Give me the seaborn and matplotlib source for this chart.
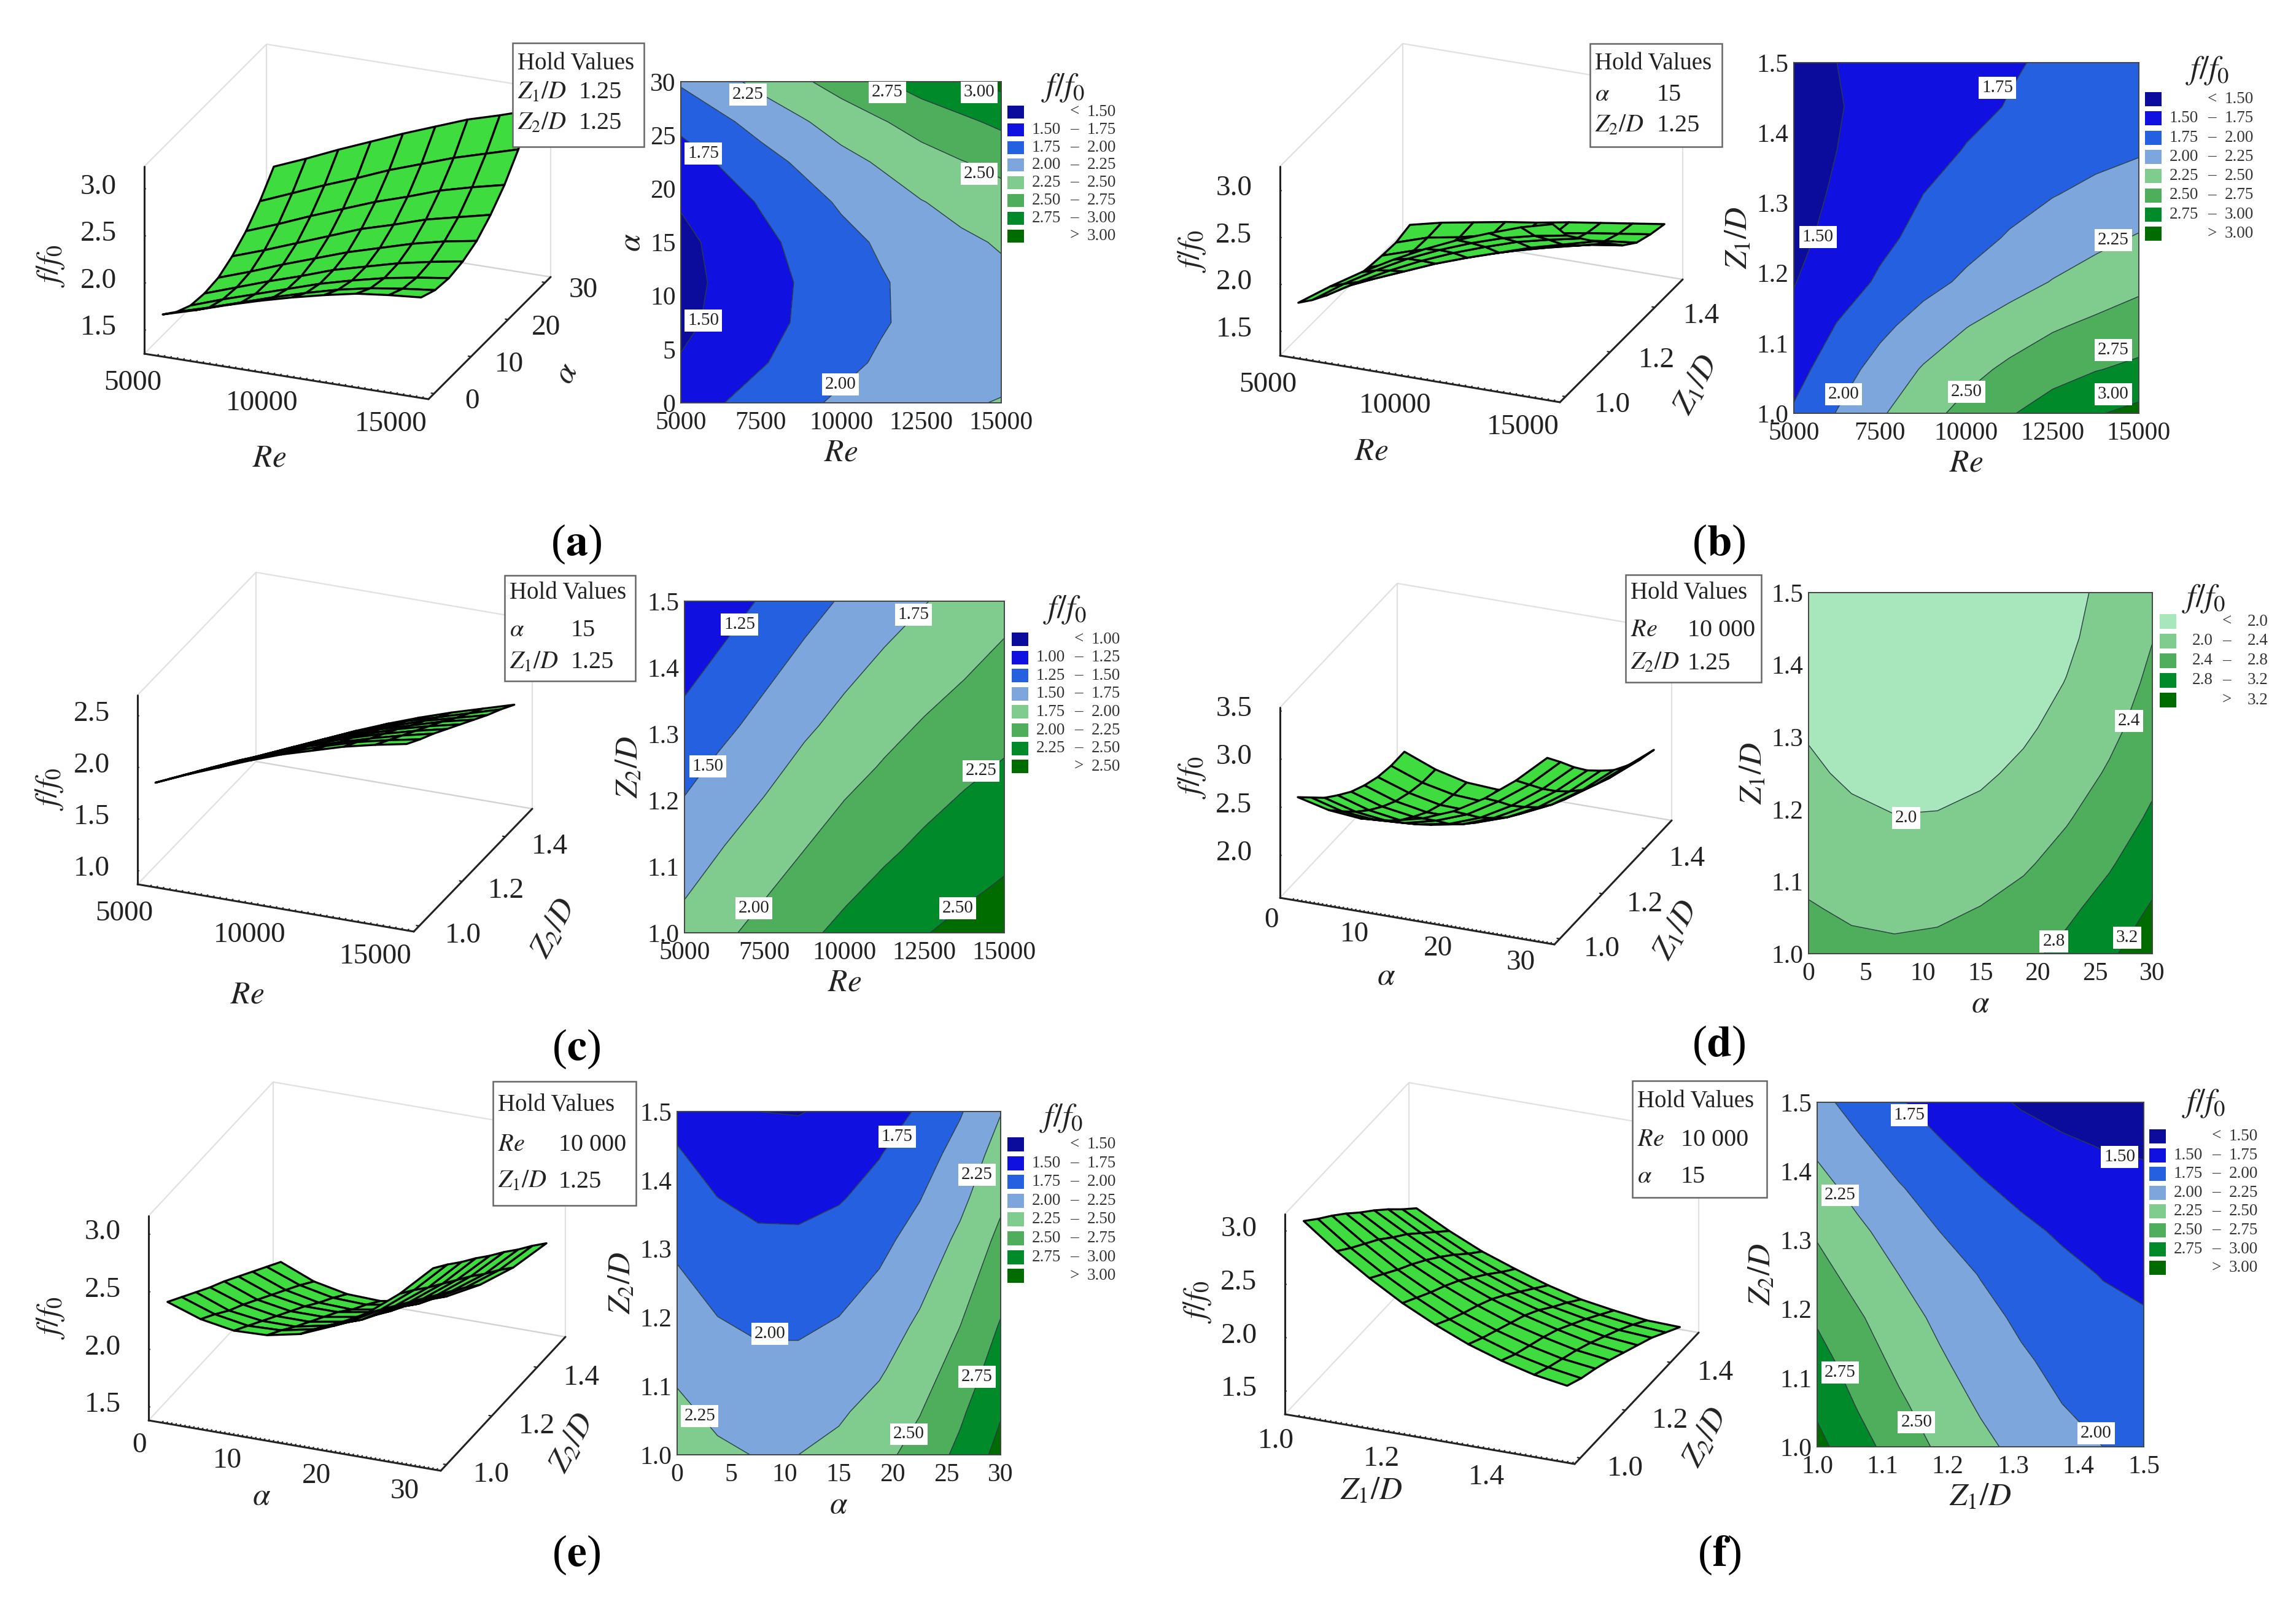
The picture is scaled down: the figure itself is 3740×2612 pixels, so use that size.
import numpy as np
import matplotlib
matplotlib.use("Agg")
import matplotlib.pyplot as plt
import seaborn as sns
from matplotlib.patches import Rectangle
from mpl_toolkits.mplot3d import proj3d

W, H = 3741, 2612

sns.set_theme(style="white")
plt.rcParams["font.family"] = ["Liberation Serif", "DejaVu Serif"]
plt.rcParams["mathtext.fontset"] = "stix"
# seaborn's white style switches tick marks off, the 3d axes need them
plt.rcParams["xtick.bottom"] = True
plt.rcParams["ytick.left"] = True

# axis values of the response grids
re_vals = [5000, 6250, 7500, 8750, 10000, 11250, 12500, 13750, 15000]
alpha_vals = [0, 3.75, 7.5, 11.25, 15, 18.75, 22.5, 26.25, 30]
ratio_vals = [1.0, 1.0625, 1.125, 1.1875, 1.25, 1.3125, 1.375, 1.4375, 1.5]

z_a = [[1.64, 1.74, 1.85, 1.95, 2.04, 2.12, 2.19, 2.23, 2.26],
       [1.52, 1.62, 1.73, 1.84, 1.94, 2.03, 2.10, 2.15, 2.19],
       [1.44, 1.56, 1.67, 1.78, 1.89, 1.98, 2.06, 2.12, 2.17],
       [1.42, 1.54, 1.66, 1.77, 1.89, 1.98, 2.07, 2.14, 2.20],
       [1.44, 1.56, 1.69, 1.81, 1.93, 2.03, 2.13, 2.21, 2.27],
       [1.52, 1.64, 1.77, 1.90, 2.03, 2.13, 2.24, 2.32, 2.40],
       [1.64, 1.77, 1.91, 2.04, 2.17, 2.28, 2.40, 2.49, 2.57],
       [1.81, 1.95, 2.09, 2.22, 2.36, 2.48, 2.60, 2.70, 2.80],
       [2.03, 2.17, 2.32, 2.46, 2.60, 2.73, 2.86, 2.96, 3.07]]
z_b = [[1.78, 2.01, 2.22, 2.41, 2.58, 2.73, 2.86, 2.98, 3.07],
       [1.66, 1.89, 2.09, 2.27, 2.42, 2.55, 2.66, 2.74, 2.80],
       [1.56, 1.76, 1.94, 2.10, 2.24, 2.36, 2.47, 2.55, 2.62],
       [1.49, 1.64, 1.78, 1.92, 2.04, 2.15, 2.26, 2.35, 2.44],
       [1.44, 1.57, 1.70, 1.81, 1.92, 2.02, 2.11, 2.19, 2.27],
       [1.41, 1.53, 1.65, 1.75, 1.84, 1.92, 1.99, 2.05, 2.10],
       [1.39, 1.50, 1.59, 1.68, 1.76, 1.83, 1.89, 1.94, 1.98],
       [1.38, 1.49, 1.55, 1.63, 1.70, 1.76, 1.82, 1.87, 1.92],
       [1.42, 1.50, 1.56, 1.62, 1.67, 1.73, 1.78, 1.83, 1.88]]
z_c = [[1.83, 1.96, 2.08, 2.20, 2.31, 2.40, 2.49, 2.56, 2.62],
       [1.73, 1.86, 1.98, 2.10, 2.21, 2.31, 2.40, 2.47, 2.53],
       [1.63, 1.76, 1.88, 2.00, 2.12, 2.21, 2.30, 2.38, 2.45],
       [1.53, 1.66, 1.78, 1.90, 2.02, 2.12, 2.21, 2.29, 2.36],
       [1.43, 1.56, 1.68, 1.81, 1.92, 2.02, 2.12, 2.20, 2.27],
       [1.32, 1.45, 1.58, 1.71, 1.82, 1.93, 2.02, 2.11, 2.18],
       [1.22, 1.35, 1.48, 1.61, 1.73, 1.83, 1.93, 2.01, 2.09],
       [1.12, 1.25, 1.38, 1.51, 1.63, 1.74, 1.83, 1.92, 2.01],
       [1.02, 1.15, 1.28, 1.41, 1.53, 1.64, 1.74, 1.83, 1.92]]
z_d = [[2.58, 2.50, 2.47, 2.50, 2.58, 2.71, 2.90, 3.14, 3.43],
       [2.43, 2.34, 2.31, 2.33, 2.41, 2.53, 2.72, 2.95, 3.24],
       [2.28, 2.19, 2.15, 2.17, 2.23, 2.35, 2.53, 2.76, 3.04],
       [2.16, 2.06, 2.01, 2.02, 2.08, 2.20, 2.37, 2.59, 2.86],
       [2.05, 1.95, 1.90, 1.90, 1.95, 2.06, 2.22, 2.44, 2.71],
       [1.97, 1.86, 1.80, 1.80, 1.84, 1.95, 2.10, 2.31, 2.57],
       [1.91, 1.80, 1.73, 1.72, 1.77, 1.86, 2.01, 2.22, 2.47],
       [1.88, 1.76, 1.69, 1.67, 1.71, 1.80, 1.94, 2.14, 2.39],
       [1.88, 1.75, 1.67, 1.65, 1.68, 1.76, 1.90, 2.09, 2.34]]
z_e = [[2.39, 2.29, 2.24, 2.25, 2.31, 2.43, 2.59, 2.81, 3.08],
       [2.30, 2.20, 2.15, 2.16, 2.22, 2.33, 2.49, 2.71, 2.98],
       [2.21, 2.10, 2.06, 2.06, 2.12, 2.22, 2.39, 2.60, 2.87],
       [2.12, 2.02, 1.97, 1.97, 2.02, 2.13, 2.29, 2.50, 2.77],
       [2.04, 1.93, 1.88, 1.88, 1.93, 2.03, 2.19, 2.40, 2.66],
       [1.95, 1.84, 1.79, 1.79, 1.84, 1.94, 2.09, 2.30, 2.56],
       [1.86, 1.75, 1.69, 1.68, 1.73, 1.83, 1.99, 2.19, 2.45],
       [1.77, 1.66, 1.60, 1.59, 1.64, 1.74, 1.89, 2.09, 2.35],
       [1.68, 1.56, 1.50, 1.49, 1.54, 1.63, 1.78, 1.98, 2.24]]
z_f = [[3.07, 2.84, 2.64, 2.46, 2.31, 2.18, 2.08, 2.00, 1.95],
       [2.95, 2.73, 2.54, 2.37, 2.22, 2.10, 2.00, 1.93, 1.88],
       [2.84, 2.63, 2.44, 2.28, 2.14, 2.03, 1.94, 1.87, 1.83],
       [2.72, 2.53, 2.35, 2.20, 2.07, 1.96, 1.88, 1.81, 1.77],
       [2.59, 2.41, 2.25, 2.11, 1.99, 1.89, 1.81, 1.74, 1.70],
       [2.47, 2.30, 2.14, 2.00, 1.89, 1.80, 1.72, 1.66, 1.63],
       [2.34, 2.17, 2.02, 1.89, 1.78, 1.69, 1.63, 1.58, 1.56],
       [2.20, 2.04, 1.89, 1.77, 1.67, 1.59, 1.53, 1.49, 1.47],
       [2.07, 1.91, 1.77, 1.66, 1.56, 1.48, 1.43, 1.39, 1.38]]

levels_main = [1.50, 1.75, 2.00, 2.25, 2.50, 2.75, 3.00]
levels_c = [1.00, 1.25, 1.50, 1.75, 2.00, 2.25, 2.50]
levels_d = [2.0, 2.4, 2.8, 3.2]

blue_green = ["#0c0c9c", "#1010e0", "#2560e0", "#7ca6dc", "#80cc8f", "#4fae5c", "#008a2a", "#006c00"]
pale_green = ["#a8e6bc", "#80cc8f", "#4fae5c", "#008a2a", "#006c00"]

re_ticks = [5000, 7500, 10000, 12500, 15000]
alpha_ticks = [0, 5, 10, 15, 20, 25, 30]
ratio_ticks = [1.0, 1.1, 1.2, 1.3, 1.4, 1.5]

RE = r"$Re$"
ALPHA = r"$\alpha$"
Z1 = r"$Z_1/D$"
Z2 = r"$Z_2/D$"
F0 = r"$f/f_0$"

panels = [
    dict(tag="a", x=re_vals, y=alpha_vals, z=z_a, levels=levels_main, colors=blue_green, fmt="%.2f",
         xl=RE, yl=ALPHA, xt=re_ticks, yt=alpha_ticks, x3=[5000, 10000, 15000], y3=[0, 10, 20, 30],
         z3=[1.5, 2.0, 2.5, 3.0], zlim=(1.26, 3.25), xlim=(4500, 15500), ylim=(-1.5, 31.5),
         hold=[(Z1, "1.25"), (Z2, "1.25")],
         L=(235, 576), F=(698, 650), R=(897, 451), top=271,
         xoff=(-40, 44), yoff=(62, 13),
         box=(1109, 133, 1631, 656), hbox=(835, 70, 1049, 239), hrows=(104, 151, 201), hval=942,
         leg=(1641, 172, 28.8, 21), title=(1732, 143), cap=(939, 886),
         lab3=((439, 747), (924, 609), (83, 433)),
         marks=[(7100, 28.8, "2.25"), (11440, 29, "2.75"), (14310, 29, "3.00"), (14310, 21.4, "2.50"),
                (5700, 23.3, "1.75"), (5700, 7.7, "1.50"), (9980, 1.7, "2.00")]),
    dict(tag="b", x=re_vals, y=ratio_vals, z=z_b, levels=levels_main, colors=blue_green, fmt="%.2f",
         xl=RE, yl=Z1, xt=re_ticks, yt=ratio_ticks, x3=[5000, 10000, 15000], y3=[1.0, 1.2, 1.4],
         z3=[1.5, 2.0, 2.5, 3.0], zlim=(1.254, 3.27), xlim=(4500, 15500), ylim=(0.975, 1.525),
         hold=[(ALPHA, "15"), (Z2, "1.25")],
         L=(2085, 579), F=(2541, 655), R=(2741, 455), top=271,
         xoff=(-40, 44), yoff=(76, 14),
         box=(2922, 102, 3484, 673), hbox=(2590, 71, 2805, 239), hrows=(104, 155, 205), hval=2699,
         leg=(3494, 150, 31.3, 23), title=(3596, 115), cap=(2800, 886),
         lab3=((2234, 736), (2764, 627), (1942, 409)),
         marks=[(10900, 1.464, "1.75"), (5700, 1.251, "1.50"), (14260, 1.247, "2.25"), (14260, 1.09, "2.75"),
                (14260, 1.027, "3.00"), (6440, 1.027, "2.00"), (10010, 1.031, "2.50")]),
    dict(tag="c", x=re_vals, y=ratio_vals, z=z_c, levels=levels_c, colors=blue_green, fmt="%.2f",
         xl=RE, yl=Z2, xt=re_ticks, yt=ratio_ticks, x3=[5000, 10000, 15000], y3=[1.0, 1.2, 1.4],
         z3=[1.0, 1.5, 2.0, 2.5], zlim=(0.88, 2.71), xlim=(4500, 15500), ylim=(0.975, 1.525),
         hold=[(ALPHA, "15"), (Z1, "1.25")],
         L=(224, 1440), F=(674, 1517), R=(867, 1317), top=1132,
         xoff=(-42, 44), yoff=(72, 16),
         box=(1115, 979, 1636, 1519), hbox=(822, 937, 1035, 1109), hrows=(966, 1026, 1079), hval=930,
         leg=(1648, 1030, 29.6, 22), title=(1735, 993), cap=(939, 1708),
         lab3=((403, 1621), (903, 1512), (81, 1285)),
         marks=[(6720, 1.465, "1.25"), (12160, 1.48, "1.75"), (5730, 1.251, "1.50"), (14270, 1.244, "2.25"),
                (7170, 1.037, "2.00"), (13540, 1.037, "2.50")]),
    dict(tag="d", x=alpha_vals, y=ratio_vals, z=z_d, levels=levels_d, colors=pale_green, fmt="%.1f",
         xl=ALPHA, yl=Z1, xt=alpha_ticks, yt=ratio_ticks, x3=[0, 10, 20, 30], y3=[1.0, 1.2, 1.4],
         z3=[2.0, 2.5, 3.0, 3.5], zlim=(1.57, 3.55), xlim=(-1.5, 31.5), ylim=(0.975, 1.525),
         hold=[(RE, "10 000"), (Z2, "1.25")],
         L=(2085, 1462), F=(2532, 1538), R=(2723, 1336), top=1152,
         xoff=(-34, 33), yoff=(69, 17),
         box=(2946, 965, 3506, 1553), hbox=(2648, 936, 2869, 1111), hrows=(966, 1026, 1080), hval=2749,
         leg=(3518, 1000, 32, 24), title=(3590, 975), cap=(2800, 1702),
         lab3=((2258, 1591), (2731, 1515), (1942, 1266)),
         marks=[(27.96, 1.322, "2.4"), (8.5, 1.188, "2.0"), (21.4, 1.017, "2.8"), (27.8, 1.022, "3.2")]),
    dict(tag="e", x=alpha_vals, y=ratio_vals, z=z_e, levels=levels_main, colors=blue_green, fmt="%.2f",
         xl=ALPHA, yl=Z2, xt=alpha_ticks, yt=ratio_ticks, x3=[0, 10, 20, 30], y3=[1.0, 1.2, 1.4],
         z3=[1.5, 2.0, 2.5, 3.0], zlim=(1.394, 3.17), xlim=(-1.5, 31.5), ylim=(0.975, 1.525),
         hold=[(RE, "10 000"), (Z1, "1.25")],
         L=(242, 2313), F=(718, 2395), R=(921, 2177), top=1980,
         xoff=(-37, 37), yoff=(73, 17),
         box=(1103, 1810, 1630, 2369), hbox=(803, 1761, 1036, 1963), hrows=(1799, 1865, 1924), hval=910,
         leg=(1641, 1852, 30.6, 23), title=(1729, 1821), cap=(939, 2532),
         lab3=((426, 2438), (933, 2350), (83, 2146)),
         marks=[(20.4, 1.463, "1.75"), (27.8, 1.408, "2.25"), (8.6, 1.176, "2.00"), (27.8, 1.114, "2.75"),
                (2.1, 1.056, "2.25"), (21.5, 1.03, "2.50")]),
    dict(tag="f", x=ratio_vals, y=ratio_vals, z=z_f, levels=levels_main, colors=blue_green, fmt="%.2f",
         xl=Z1, yl=Z2, xt=ratio_ticks, yt=ratio_ticks, x3=[1.0, 1.2, 1.4], y3=[1.0, 1.2, 1.4],
         z3=[1.5, 2.0, 2.5, 3.0], zlim=(1.294, 3.17), xlim=(0.975, 1.525), ylim=(0.975, 1.525),
         hold=[(RE, "10 000"), (ALPHA, "15")],
         L=(2093, 2303), F=(2565, 2384), R=(2767, 2170), top=1977,
         xoff=(-36, 40), yoff=(73, 17),
         box=(2960, 1795, 3492, 2356), hbox=(2659, 1760, 2878, 1950), hrows=(1794, 1857, 1916), hval=2738,
         leg=(3501, 1839, 30.6, 23), title=(3590, 1797), cap=(2800, 2532),
         lab3=((2234, 2429), (2779, 2341), (1951, 2120)),
         marks=[(1.141, 1.481, "1.75"), (1.463, 1.421, "1.50"), (1.035, 1.365, "2.25"), (1.035, 1.108, "2.75"),
                (1.152, 1.036, "2.50"), (1.427, 1.02, "2.00")]),
]

fig = plt.figure(figsize=(W / 100, H / 100), dpi=100, facecolor="white")


def px_text(x, y, s, **kw):
    kw.setdefault("ha", "center")
    kw.setdefault("va", "center")
    kw.setdefault("zorder", 12)
    return fig.text(x / W, 1 - y / H, s, **kw)


def px_rect(x0, y0, x1, y1, **kw):
    r = Rectangle((x0 / W, 1 - y1 / H), (x1 - x0) / W, (y1 - y0) / H, transform=fig.transFigure, **kw)
    fig.add_artist(r)


def corner_px(ax, pt):
    xs, ys, _ = proj3d.proj_transform(pt[0], pt[1], pt[2], ax.get_proj())
    return ax.transData.transform((xs, ys))


def tick_name(v):
    return f"{v:.1f}" if isinstance(v, float) else str(v)


def fit_3d(ax, p):
    # view and box shape worked out from where the floor corners sit in the picture
    L, F, R = p["L"], p["F"], p["R"]
    p1, q1 = F[0] - L[0], F[1] - L[1]
    p2, q2 = R[0] - F[0], F[1] - R[1]
    e = np.sqrt(q1 / p1 * q2 / p2)
    az = np.arctan(q2 / p2 / e)
    el = np.arcsin(e)
    ax.view_init(elev=np.degrees(el), azim=-np.degrees(az))
    ax.set_box_aspect((p1 / np.sin(az), p2 / np.cos(az), (L[1] - p["top"]) / np.cos(el)))

    x0, x1 = p["xlim"]
    y0, y1 = p["ylim"]
    z0 = p["zlim"][0]
    size = 900.0
    ax.set_position([0.1, 0.1, size / W, size / H])
    ax.apply_aspect()
    a = corner_px(ax, (x0, y0, z0))
    b = corner_px(ax, (x1, y1, z0))
    size *= np.hypot(R[0] - L[0], R[1] - L[1]) / np.hypot(*(b - a))
    ax.set_position([0.1, 0.1, size / W, size / H])
    ax.apply_aspect()
    a = corner_px(ax, (x0, y0, z0))
    left = 0.1 * W + L[0] - a[0]
    bottom = 0.1 * H + (H - L[1]) - a[1]
    ax.set_position([left / W, bottom / H, size / W, size / H])
    ax.apply_aspect()


def tick_texts(ax, p):
    x0, x1 = p["xlim"]
    y0, y1 = p["ylim"]
    z0 = p["zlim"][0]
    for v in p["x3"]:
        a = corner_px(ax, (v, y0, z0))
        px_text(a[0] + p["xoff"][0], H - a[1] + p["xoff"][1], tick_name(v), fontsize=34, color="#222222", zorder=3)
    for v in p["y3"]:
        a = corner_px(ax, (x1, v, z0))
        px_text(a[0] + p["yoff"][0], H - a[1] + p["yoff"][1], tick_name(v), fontsize=34, color="#222222", zorder=3)
    for v in p["z3"]:
        a = corner_px(ax, (x0, y0, v))
        px_text(a[0] - 75, H - a[1] - 5, tick_name(v), fontsize=34, color="#222222", zorder=3)


def draw_surface(p):
    ax = fig.add_axes([0.1, 0.1, 0.2, 0.2], projection="3d", proj_type="ortho", facecolor="none")
    X, Y = np.meshgrid(p["x"], p["y"])
    ax.plot_surface(X, Y, np.array(p["z"]), rstride=1, cstride=1, color="#3fdc3f",
                    edgecolor="black", linewidth=2.4, shade=False, antialiased=True)
    ax.set_xlim(*p["xlim"], view_margin=0)
    ax.set_ylim(*p["ylim"], view_margin=0)
    ax.set_zlim(*p["zlim"], view_margin=0)
    ax.grid(False)

    # dense unlabelled ticks along the front axis
    major = p["x3"]
    step = (major[1] - major[0]) / 20
    ax.set_xticks(np.arange(major[0], p["xlim"][1], step))
    ax.set_yticks(p["y3"])
    ax.set_zticks(p["z3"])
    ax.set_xticklabels([])
    ax.set_yticklabels([])
    ax.set_zticklabels([])
    ax.zaxis.set_ticks_position("lower")

    for axis in (ax.xaxis, ax.yaxis, ax.zaxis):
        axis.pane.set_facecolor("none")
        axis.pane.set_fill(False)
        axis.pane.set_edgecolor("#c4c4c4")
        axis.pane.set_linewidth(1.6)
        axis.line.set_color("#222222")
        axis.line.set_linewidth(2.2)
        axis._axinfo["tick"]["inward_factor"] = 0.0
        axis._axinfo["tick"]["outward_factor"] = 0.12
        axis._axinfo["tick"]["linewidth"] = {True: 1.6, False: 1.6}
        axis._axinfo["tick"]["color"] = "#333333"
    fit_3d(ax, p)
    tick_texts(ax, p)

    (xp, yp, zp) = p["lab3"]
    px_text(xp[0], xp[1], p["xl"], fontsize=37, color="#222222")
    px_text(yp[0], yp[1], p["yl"], fontsize=37, rotation=62, color="#222222")
    px_text(zp[0], zp[1], F0, fontsize=37, rotation=90, color="#222222")


def draw_contour(p):
    x0, y0, x1, y1 = p["box"]
    ax = fig.add_axes([x0 / W, 1 - y1 / H, (x1 - x0) / W, (y1 - y0) / H], zorder=5)
    x = np.array(p["x"])
    y = np.array(p["y"])
    z = np.array(p["z"])
    ax.contourf(x, y, z, levels=p["levels"], colors=sns.color_palette(p["colors"]), extend="both")
    ax.contour(x, y, z, levels=p["levels"], colors="#2c3c44", linewidths=1.0)
    ax.set_xlim(x[0], x[-1])
    ax.set_ylim(y[0], y[-1])
    ax.set_xticks(p["xt"])
    ax.set_yticks(p["yt"])
    ax.set_xticklabels([tick_name(v) for v in p["xt"]])
    ax.set_yticklabels([tick_name(v) for v in p["yt"]])
    ax.tick_params(length=0, labelsize=30, colors="#222222", pad=6)
    ax.tick_params(axis="x", pad=10)
    ax.set_xlabel(p["xl"], fontsize=37, labelpad=5, color="#222222")
    ax.set_ylabel(p["yl"], fontsize=37, labelpad=4, color="#222222")
    for s in ax.spines.values():
        s.set_color("#444444")
        s.set_linewidth(1.4)
    for mx, my, txt in p["marks"]:
        ax.text(mx, my, txt, fontsize=21, ha="center", va="center", color="#222222", clip_on=True,
                bbox=dict(facecolor="white", edgecolor="none", pad=3.5))


def draw_legend(p):
    sx, sy, step, h = p["leg"]
    levels = p["levels"]
    colors = p["colors"]
    tx, ty = p["title"]
    px_text(tx, ty, F0, fontsize=38, color="#222222")
    for i, c in enumerate(colors):
        top = sy + i * step
        px_rect(sx, top, sx + 27, top + h, facecolor=c, edgecolor="none", zorder=11)
        mid = top + h / 2
        if i == 0:
            lo, sep, hi = "", "<", p["fmt"] % levels[0]
        elif i == len(colors) - 1:
            lo, sep, hi = "", ">", p["fmt"] % levels[-1]
        else:
            lo, sep, hi = p["fmt"] % levels[i - 1], "\u2013", p["fmt"] % levels[i]
        px_text(sx + 87, mid, lo, fontsize=19.5, ha="right", color="#333333")
        px_text(sx + 109, mid, sep, fontsize=19.5, color="#333333")
        px_text(sx + 177, mid, hi, fontsize=19.5, ha="right", color="#333333")


def draw_hold(p):
    x0, y0, x1, y1 = p["hbox"]
    px_rect(x0, y0, x1, y1, facecolor="white", edgecolor="#666666", linewidth=1.8, zorder=10)
    rows = p["hrows"]
    px_text(x0 + 8, rows[0], "Hold Values", fontsize=28, ha="left", color="#222222")
    for (name, val), yy in zip(p["hold"], rows[1:]):
        px_text(x0 + 8, yy, name, fontsize=29, ha="left", color="#222222")
        px_text(p["hval"], yy, val, fontsize=29, ha="left", color="#222222")


for p in panels:
    draw_surface(p)
    draw_contour(p)
    draw_legend(p)
    draw_hold(p)
    px_text(p["cap"][0], p["cap"][1], "($\\mathbf{" + p["tag"] + "}$)", fontsize=52, color="black")

fig.savefig("out.png", dpi=100, facecolor="white")
